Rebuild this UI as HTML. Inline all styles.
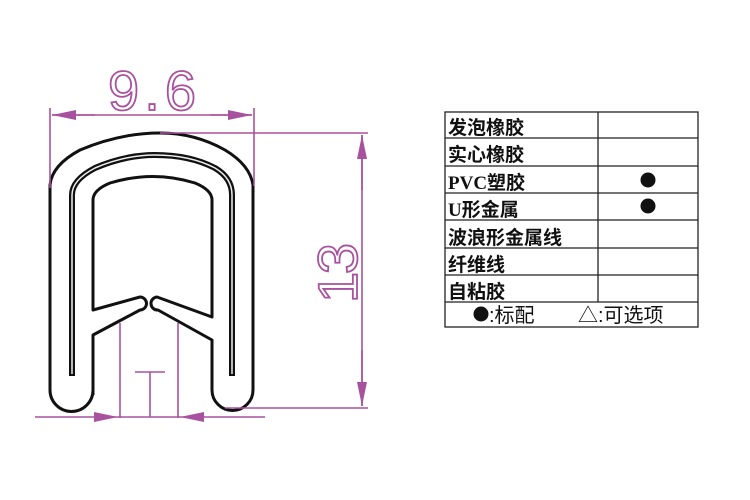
<!DOCTYPE html>
<html><head><meta charset="utf-8"><style>
html,body{margin:0;padding:0;background:#fff;width:750px;height:500px;overflow:hidden}
svg{position:absolute;left:0;top:0}
</style></head><body>
<svg width="750" height="500" viewBox="0 0 750 500">
<defs>
<marker id="a" viewBox="0 0 24 10" refX="24" refY="5" markerWidth="24" markerHeight="10" markerUnits="userSpaceOnUse" orient="auto"><path d="M0,0L24,5L0,10z" fill="#a8529f"/></marker>
</defs>
<g fill="none" stroke="#111" stroke-width="3" stroke-linejoin="round">
<path d="M93,395 L93,335 L140,310 A6,6 0 0 0 140,297 L93,310 L93,200 Q93,190 110,183 Q153,170 195,183 Q212,190 212,200 L212,317 L157,297 A6,6 0 0 0 158,310 L212,340 L212,390 A20.5,20.5 0 0 0 253,390 L253,185 Q250,165 225,150 Q195,133 160,133 Q120,133 80,150 Q52,165 50,185 L50,390 A21.5,21.5 0 0 0 93,390"/>
</g>
<path d="M72,376 L72,195 Q72,180 95,168 Q125,155 155,155 Q190,155 215,168 Q232,178 232,195 L232,376" fill="none" stroke="#111" stroke-width="6"/>
<path d="M72,374 L72,195 Q72,180 95,168 Q125,155 155,155 Q190,155 215,168 Q232,178 232,195 L232,374" fill="none" stroke="#eee" stroke-width="1.5"/>
<g stroke="#a8529f" stroke-width="1.6" fill="none">
<line x1="50" y1="108" x2="50" y2="188"/>
<line x1="254" y1="108" x2="254" y2="186"/>
<line x1="95" y1="115" x2="52" y2="115" marker-end="url(#a)"/>
<line x1="210" y1="115" x2="252" y2="115" marker-end="url(#a)"/>
<line x1="52" y1="115" x2="252" y2="115"/>
<line x1="160" y1="133" x2="368" y2="133"/>
<line x1="225" y1="408" x2="368" y2="408"/>
<line x1="362" y1="190" x2="362" y2="135" marker-end="url(#a)"/>
<line x1="362" y1="350" x2="362" y2="406" marker-end="url(#a)"/>
<line x1="362" y1="135" x2="362" y2="406"/>
<line x1="35" y1="417" x2="118" y2="417" marker-end="url(#a)"/>
<line x1="265" y1="417" x2="180" y2="417" marker-end="url(#a)"/>
<line x1="118" y1="417" x2="180" y2="417"/>
<line x1="120" y1="323" x2="120" y2="418"/>
<line x1="178" y1="323" x2="178" y2="418"/>
<line x1="135" y1="372" x2="165" y2="372"/>
<line x1="150" y1="372" x2="150" y2="417"/>
</g>
<text x="108" y="110" font-family="Liberation Sans Narrow,Liberation Sans,sans-serif" font-size="56" fill="none" stroke="#a8529f" stroke-width="1.8" textLength="88">9.6</text>
<text transform="translate(357,303) rotate(-90)" font-family="Liberation Sans Narrow,Liberation Sans,sans-serif" font-size="56" fill="none" stroke="#a8529f" stroke-width="1.8" textLength="60">13</text>
<g stroke="#222" stroke-width="1.3" fill="none">
<rect x="445" y="112" width="253" height="215"/>
<line x1="598" y1="112" x2="598" y2="302"/>
<line x1="445" y1="138" x2="698" y2="138"/>
<line x1="445" y1="166" x2="698" y2="166"/>
<line x1="445" y1="193" x2="698" y2="193"/>
<line x1="445" y1="220" x2="698" y2="220"/>
<line x1="445" y1="248" x2="698" y2="248"/>
<line x1="445" y1="275" x2="698" y2="275"/>
<line x1="445" y1="302" x2="698" y2="302"/>
</g>
<g font-family="Liberation Serif,'Noto Sans CJK SC',sans-serif" font-size="19" font-weight="bold" fill="#111">
<text x="448" y="134">发泡橡胶</text>
<text x="448" y="161">实心橡胶</text>
<text x="448" y="189">PVC塑胶</text>
<text x="448" y="216">U形金属</text>
<text x="448" y="244">波浪形金属线</text>
<text x="448" y="271">纤维线</text>
<text x="448" y="298">自粘胶</text>
</g>
<circle cx="648" cy="180" r="7.5" fill="#111"/>
<circle cx="648" cy="206" r="7.5" fill="#111"/>
<circle cx="481" cy="314" r="7.5" fill="#111"/>
<g font-family="Liberation Sans,'Noto Sans CJK SC',sans-serif" font-size="20" fill="#111">
<text x="489" y="322">:标配</text>
<text x="578" y="322">△:可选项</text>
</g>
</svg>
</body></html>
